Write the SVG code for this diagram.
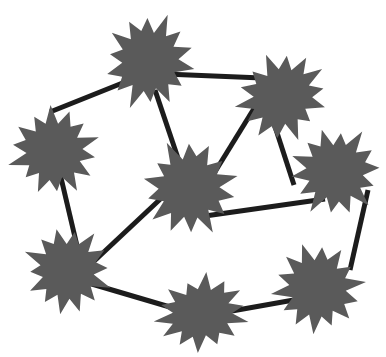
<svg xmlns="http://www.w3.org/2000/svg" xmlns:xlink="http://www.w3.org/1999/xlink" width="386" height="357" viewBox="0 0 386 357">
<style>
.edge{stroke:#1c1c1c;stroke-width:5;stroke-linecap:butt;fill:none}
.star{fill:#5a5a5a}
</style>
<defs>
<path id="star" d="M50,0 L29.2,6.7 L39.6,19.1 L25,20 L29.9,37.5 L12.6,26.1 L9.3,40.9 L0,31 L-11.6,50.7 L-13,27 L-28.1,35.2 L-25.8,20.6 L-42.3,20.4 L-28.3,6.5 L-43,0 L-30.2,-6.9 L-45.1,-21.7 L-23.5,-18.7 L-28.7,-36 L-13.9,-28.8 L-9.8,-42.9 L0,-29 L11.3,-49.7 L13.5,-27.9 L28.1,-35.2 L23.5,-18.7 L43.2,-20.8 L31.2,-7.1 Z"/>
</defs>
<rect width="386" height="357" fill="#ffffff"/>
<g id="connectors">
<line class="edge" x1="50" y1="112" x2="125" y2="82"/>
<line class="edge" x1="165" y1="74" x2="262" y2="78"/>
<line class="edge" x1="155" y1="90" x2="182" y2="170"/>
<line class="edge" x1="258" y1="102" x2="205" y2="188"/>
<line class="edge" x1="268" y1="105" x2="294" y2="185"/>
<line class="edge" x1="205" y1="216" x2="325" y2="199"/>
<line class="edge" x1="58" y1="165" x2="78" y2="250"/>
<line class="edge" x1="170" y1="190" x2="90" y2="265"/>
<line class="edge" x1="85" y1="282" x2="180" y2="310"/>
<line class="edge" x1="215" y1="314" x2="305" y2="298"/>
<line class="edge" x1="368" y1="190" x2="350" y2="270"/>
</g>
<g id="n1"><use xlink:href="#star" class="star" transform="translate(149,61) rotate(10) scale(0.92,0.98)"/></g>
<g id="n2"><use xlink:href="#star" class="star" transform="translate(282,97) rotate(-35) scale(0.98,0.88)"/></g>
<g id="n3"><use xlink:href="#star" class="star" transform="translate(54,151) rotate(60) scale(0.92)"/></g>
<g id="n4"><use xlink:href="#star" class="star" transform="translate(190,188) rotate(140) scale(0.98)"/></g>
<g id="n5"><use xlink:href="#star" class="star" transform="translate(336,172) rotate(200) scale(0.93)"/></g>
<g id="n6"><use xlink:href="#star" class="star" transform="translate(68,270) rotate(100) scale(0.9)"/></g>
<g id="n7"><use xlink:href="#star" class="star" transform="translate(202,313) rotate(170) scale(0.98,0.78)"/></g>
<g id="n8"><use xlink:href="#star" class="star" transform="translate(318,288) rotate(250) scale(0.93)"/></g>
</svg>
